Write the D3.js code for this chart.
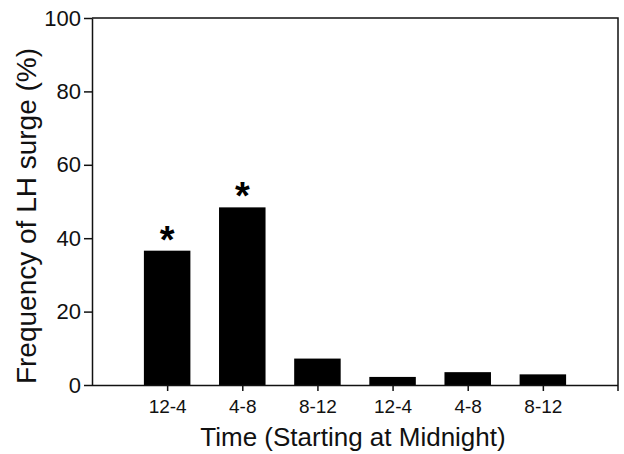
<!DOCTYPE html>
<html>
<head>
<meta charset="utf-8">
<script src="https://cdn.jsdelivr.net/npm/d3@7"></script>
<style>
  body { margin: 0; background: #fff; }
  svg { display: block; font-family: "Liberation Sans", Arial, sans-serif; }
  .axis path, .axis line { stroke: #111; stroke-width: 1.5px; }
  .axis text { fill: #111; }
</style>
</head>
<body>
<svg id="chart" width="624" height="454"></svg>
<script>
// Periods of the day (two 12h cycles, starting at midnight)
const periods = ["12-4 a", "4-8 a", "8-12 a", "12-4 b", "4-8 b", "8-12 b"];
const periodLabels = ["12-4", "4-8", "8-12", "12-4", "4-8", "8-12"];
const surgeFreq = [36.6, 48.4, 7.2, 2.2, 3.5, 2.9];
const significant = [true, true, false, false, false, false];
const yTicks = [0, 20, 40, 60, 80, 100];

const svg = d3.select("#chart");
const plotL = 92, plotR = 618, plotT = 18, plotB = 385;
const FONT = "'Liberation Sans', Arial, sans-serif";

const x = d3.scalePoint().domain(periods).range([plotL, plotR]).padding(1);
const y = d3.scaleLinear().domain([0, 100]).range([plotB, plotT]);
const barW = 46.5;

//bars
svg.append("g")
  .selectAll("rect")
  .data(periods)
  .join("rect")
  .attr("x", d => x(d) - barW / 2)
  .attr("width", barW)
  .attr("y", (d, i) => y(surgeFreq[i]))
  .attr("height", (d, i) => y(0) - y(surgeFreq[i]))
  .attr("fill", "#000");

//asterischi
svg.append("g")
  .selectAll("text")
  .data(periods.filter((d, i) => significant[i]))
  .join("text")
  .attr("x", d => x(d))
  .attr("y", d => y(surgeFreq[periods.indexOf(d)]) + 2)
  .attr("text-anchor", "middle")
  .attr("font-size", "38px")
  .attr("font-weight", "bold")
  .attr("fill", "#000")
  .text("*");

// frame: top + right
svg.append("path")
  .attr("d", `M${plotL},${plotT}H${plotR}V${plotB + 6}`)
  .attr("fill", "none")
  .attr("stroke", "#111")
  .attr("stroke-width", 1.5);

svg.append("g")
  .attr("class", "axis")
  .attr("transform", `translate(${plotL},0)`)
  .call(d3.axisLeft(y).tickValues(yTicks).tickSize(8).tickPadding(3).tickSizeOuter(0))
  .call(g => g.selectAll("text").attr("font-size", "22px").attr("font-family", FONT));

svg.append("g")
  .attr("class", "axis")
  .attr("transform", `translate(0,${plotB})`)
  .call(d3.axisBottom(x).tickFormat((d, i) => periodLabels[i]).tickSize(6).tickPadding(9).tickSizeOuter(0))
  .call(g => g.select(".domain").attr("d", `M${plotL},0.5H${plotR}`))
  .call(g => g.selectAll("text").attr("font-size", "19px").attr("font-family", FONT));

svg.append("text")
  .attr("x", (plotL + plotR) / 2 - 2)
  .attr("y", 446)
  .attr("text-anchor", "middle")
  .attr("font-size", "26px")
  .attr("fill", "#111")
  .text("Time (Starting at Midnight)");

svg.append("text")
  .attr("transform", "rotate(-90)")
  .attr("x", -216)
  .attr("y", 36)
  .attr("text-anchor", "middle")
  .attr("font-size", "28px")
  .attr("fill", "#111")
  .text("Frequency of LH surge (%)");
</script>
</body>
</html>
